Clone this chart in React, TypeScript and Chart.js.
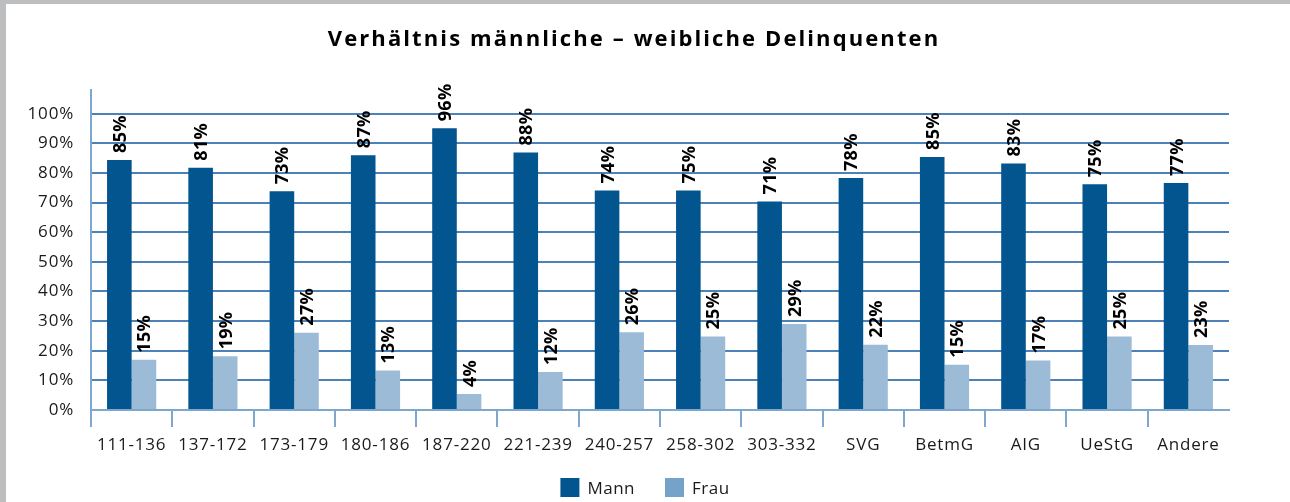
import { useEffect, useRef } from 'react';
import { Chart, registerables } from 'chart.js';

Chart.register(...registerables);

const chartTitle = 'Verhältnis männliche – weibliche Delinquenten';
const categories = ['111-136', '137-172', '173-179', '180-186', '187-220', '221-239', '240-257', '258-302', '303-332', 'SVG', 'BetmG', 'AIG', 'UeStG', 'Andere'];
const seriesNames = ['Mann', 'Frau'];
const mannValues = [84.4, 81.8, 73.8, 86.0, 95.1, 86.9, 74.1, 74.1, 70.4, 78.3, 85.4, 83.2, 76.2, 76.6];
const frauValues = [17.0, 18.1, 26.1, 13.3, 5.4, 12.8, 26.2, 24.8, 29.0, 22.0, 15.3, 16.7, 24.8, 21.9];
const mannLabels = ['85%', '81%', '73%', '87%', '96%', '88%', '74%', '75%', '71%', '78%', '85%', '83%', '75%', '77%'];
const frauLabels = ['15%', '19%', '27%', '13%', '4%', '12%', '26%', '25%', '29%', '22%', '15%', '17%', '25%', '23%'];
const yTickValues = [0, 10, 20, 30, 40, 50, 60, 70, 80, 90, 100];

const MANN_COLOR = '#02558f';
const FRAU_COLOR = '#9bbbd7';
const FRAU_LEGEND_COLOR = '#74a2c8';
const FONT = '"Open Sans", "DejaVu Sans", sans-serif';
const TICK_SPACING = '0.8px';

const spacingPlugin = {
  id: 'spacing',
  beforeUpdate(chart: any) {
    (chart.ctx as any).letterSpacing = TICK_SPACING;
  },
  beforeDraw(chart: any) {
    (chart.ctx as any).letterSpacing = TICK_SPACING;
  },
};

const framePlugin = {
  id: 'frame',
  beforeDraw(chart: any) {
    const ctx = chart.ctx;
    ctx.save();
    ctx.fillStyle = '#ffffff';
    ctx.fillRect(0, 0, chart.width, chart.height);
    ctx.fillStyle = '#bdbec0';
    ctx.fillRect(0, 0, chart.width, 4);
    ctx.fillRect(0, 0, 6, chart.height);
    ctx.restore();
  },
};

const titlePlugin = {
  id: 'customTitle',
  afterDraw(chart: any) {
    const ctx = chart.ctx;
    ctx.save();
    ctx.font = `bold 22px ${FONT}`;
    (ctx as any).letterSpacing = '2.1px';
    ctx.fillStyle = '#000000';
    ctx.textAlign = 'center';
    ctx.textBaseline = 'alphabetic';
    ctx.fillText(chartTitle, 634, 46);
    ctx.restore();
  },
};

const valueLabelPlugin = {
  id: 'valueLabels',
  afterDatasetsDraw(chart: any) {
    const ctx = chart.ctx;
    ctx.save();
    ctx.font = `bold 18px ${FONT}`;
    (ctx as any).letterSpacing = '0.3px';
    ctx.fillStyle = '#000000';
    ctx.textAlign = 'left';
    ctx.textBaseline = 'alphabetic';
    chart.data.datasets.forEach((ds: any, di: number) => {
      const meta = chart.getDatasetMeta(di);
      const labels = di === 0 ? mannLabels : frauLabels;
      meta.data.forEach((bar: any, i: number) => {
        const p = bar.getProps(['x', 'y'], true);
        ctx.save();
        ctx.translate(p.x, p.y - 7);
        ctx.rotate(-Math.PI / 2);
        ctx.fillText(labels[i], 0, 6.5);
        ctx.restore();
      });
    });
    ctx.restore();
  },
};

const legendPlugin = {
  id: 'customLegend',
  afterDraw(chart: any) {
    const ctx = chart.ctx;
    ctx.save();
    ctx.font = `17px ${FONT}`;
    (ctx as any).letterSpacing = '0.5px';
    ctx.textBaseline = 'alphabetic';
    ctx.textAlign = 'left';
    const colors = [MANN_COLOR, FRAU_LEGEND_COLOR];
    const box = 19;
    const gapText = 8;
    const gapItem = 30;
    const widths = seriesNames.map((n) => ctx.measureText(n).width);
    const total = widths.reduce((a, w) => a + box + gapText + w, 0) + gapItem * (seriesNames.length - 1);
    let x = chart.width / 2 - total / 2;
    seriesNames.forEach((n, i) => {
      ctx.fillStyle = colors[i];
      ctx.fillRect(x, 478, box, box);
      ctx.fillStyle = '#1a1a1a';
      ctx.fillText(n, x + box + gapText, 494);
      x += box + gapText + widths[i] + gapItem;
    });
    ctx.restore();
  },
};

export default function App() {
  const canvasRef = useRef<HTMLCanvasElement | null>(null);

  useEffect(() => {
    if (!canvasRef.current) return;
    const chart = new Chart(canvasRef.current, {
      type: 'bar',
      data: {
        labels: categories,
        datasets: [
          {
            label: seriesNames[0],
            data: mannValues,
            backgroundColor: MANN_COLOR,
            borderWidth: 0,
            categoryPercentage: 0.605,
            barPercentage: 1.0,
          },
          {
            label: seriesNames[1],
            data: frauValues,
            backgroundColor: FRAU_COLOR,
            borderWidth: 0,
            categoryPercentage: 0.605,
            barPercentage: 1.0,
          },
        ],
      },
      options: {
        responsive: false,
        animation: false,
        layout: { padding: { left: 0, right: 61, top: 90, bottom: 0 } },
        plugins: {
          legend: { display: false },
          title: { display: false },
          tooltip: { enabled: false },
        },
        scales: {
          x: {
            afterFit(scale: any) {
              scale.height = 92;
            },
            grid: {
              offset: true,
              drawOnChartArea: false,
              drawTicks: true,
              tickLength: 17,
              lineWidth: 2,
              color: (c: any) => (c.type === 'tick' ? '#7ea7cf' : 'rgba(0,0,0,0)'),
            },
            border: { display: true, color: '#7ea7cf', width: 2 },
            ticks: {
              color: '#1a1a1a',
              font: { family: FONT, size: 17 },
              padding: 8,
              maxRotation: 0,
              autoSkip: false,
            },
          },
          y: {
            min: 0,
            max: 108,
            afterFit(scale: any) {
              scale.width = 91;
            },
            afterBuildTicks(scale: any) {
              scale.ticks = yTickValues.map((v) => ({ value: v }));
            },
            grid: {
              drawTicks: false,
              color: '#4d82b8',
              lineWidth: 2,
            },
            border: { display: true, color: '#7ea7cf', width: 2 },
            ticks: {
              color: '#1a1a1a',
              font: { family: FONT, size: 17 },
              padding: 17,
              callback: (v: any) => `${v}%`,
            },
          },
        },
      },
      plugins: [spacingPlugin, framePlugin, titlePlugin, valueLabelPlugin, legendPlugin],
    } as any);
    return () => chart.destroy();
  }, []);

  return (
    <div style={{ position: 'absolute', left: 0, top: 0, width: 1290, height: 502 }}>
      <canvas ref={canvasRef} width={1290} height={502} style={{ display: 'block' }} />
    </div>
  );
}
